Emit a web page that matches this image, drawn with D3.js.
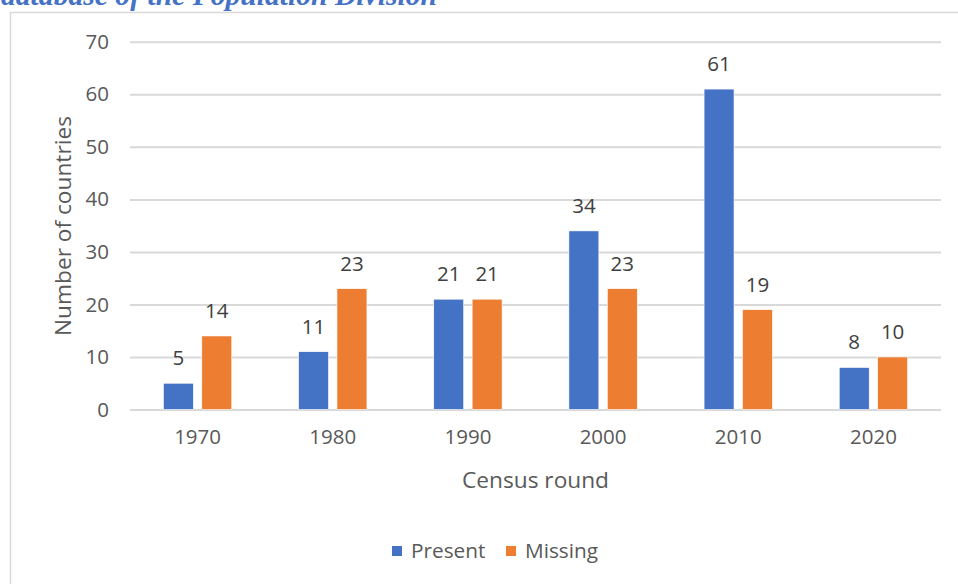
<!DOCTYPE html>
<html><head><meta charset="utf-8">
<script src="https://cdn.jsdelivr.net/npm/d3@7"></script>
<style>
html,body{margin:0;padding:0;background:#fff;overflow:hidden;}
svg{display:block;}
</style></head>
<body>
<svg id="c" width="958" height="584"></svg>
<script>
const categories = ["1970","1980","1990","2000","2010","2020"];
const seriesNames = ["Present","Missing"];
const present = [5, 11, 21, 34, 61, 8];
const missing = [14, 23, 21, 23, 19, 10];
const yTicks = [0,10,20,30,40,50,60,70];
const colors = ["#4472C4","#ED7D31"];

const svg = d3.select("#c");
const font = "'Open Sans', sans-serif";
const textCol = "#595959";

// heading fragment (cut off at the top, as in the source)
svg.append("text").attr("x", 1).attr("y", 5)
  .attr("font-family","'Liberation Serif', serif").attr("font-style","italic").attr("font-weight","bold")
  .attr("font-size", 29).attr("fill","#4472C4")
  .attr("textLength", 436).attr("lengthAdjust","spacingAndGlyphs")
  .text("database of the Population Division");

// border
svg.append("rect").attr("x",10.5).attr("y",12.5).attr("width",1000).attr("height",1000)
  .attr("fill","none").attr("stroke","#d9d9d9").attr("stroke-width",1.5);

const x0 = d3.scaleBand().domain(categories).range([130, 941]).padding(0);
const x1 = d3.scaleBand().domain(seriesNames).range([0, x0.bandwidth()]).paddingInner(0.22).paddingOuter(0.87);
const y = d3.scaleLinear().domain([0,70]).range([409.5, 41.8]);

// gridlines + y tick labels
const yAxis = d3.axisLeft(y).tickValues(yTicks).tickSize(-(941-130)).tickPadding(21);
const ga = svg.append("g").attr("transform","translate(130,0)").call(yAxis);
ga.select(".domain").remove();
ga.selectAll(".tick line").attr("stroke","#d9d9d9").attr("stroke-width",2);
ga.selectAll(".tick text").attr("font-family",font).attr("font-size",20.5).attr("fill",textCol);

const data = categories.map((c,i)=>({cat:c, vals:[{s:"Present",v:present[i]},{s:"Missing",v:missing[i]}]}));

const groups = svg.append("g").selectAll("g").data(data).join("g")
  .attr("transform", d=>`translate(${x0(d.cat)},0)`);
groups.selectAll("rect").data(d=>d.vals).join("rect")
  .attr("x", d=>x1(d.s)).attr("width", x1.bandwidth())
  .attr("y", d=>y(d.v)).attr("height", d=>y(0)-y(d.v))
  .attr("fill", (d,i)=>colors[i]).attr("stroke","#fff").attr("stroke-width",0.6);
groups.selectAll("text").data(d=>d.vals).join("text")
  .attr("x", d=>x1(d.s)+x1.bandwidth()/2).attr("y", d=>y(d.v)-18)
  .attr("text-anchor","middle").attr("font-family",font).attr("font-size",20.5).attr("fill","#404040")
  .text(d=>d.v);

// x axis labels
const xAxis = d3.axisBottom(x0).tickSize(0).tickPadding(20);
const gx = svg.append("g").attr("transform","translate(0,409.5)").call(xAxis);
gx.select(".domain").remove();
gx.selectAll(".tick text").attr("font-family",font).attr("font-size",20.5).attr("fill",textCol);

// axis titles
svg.append("text").attr("x",535.5).attr("y",487.5).attr("text-anchor","middle")
  .attr("font-family",font).attr("font-size",22.7).attr("fill",textCol).text("Census round");
svg.append("text").attr("transform","translate(70.5,226) rotate(-90)").attr("text-anchor","middle")
  .attr("font-family",font).attr("font-size",22.7).attr("fill",textCol).text("Number of countries");

// legend
const legX = [392, 506];
const lg = svg.append("g").selectAll("g").data(seriesNames).join("g")
  .attr("transform",(d,i)=>`translate(${legX[i]},546)`);
lg.append("rect").attr("width",10).attr("height",10).attr("fill",(d,i)=>colors[i]);
lg.append("text").attr("x",19).attr("y",12).attr("font-family",font).attr("font-size",20.8).attr("fill",textCol).text(d=>d);
</script>
</body></html>
